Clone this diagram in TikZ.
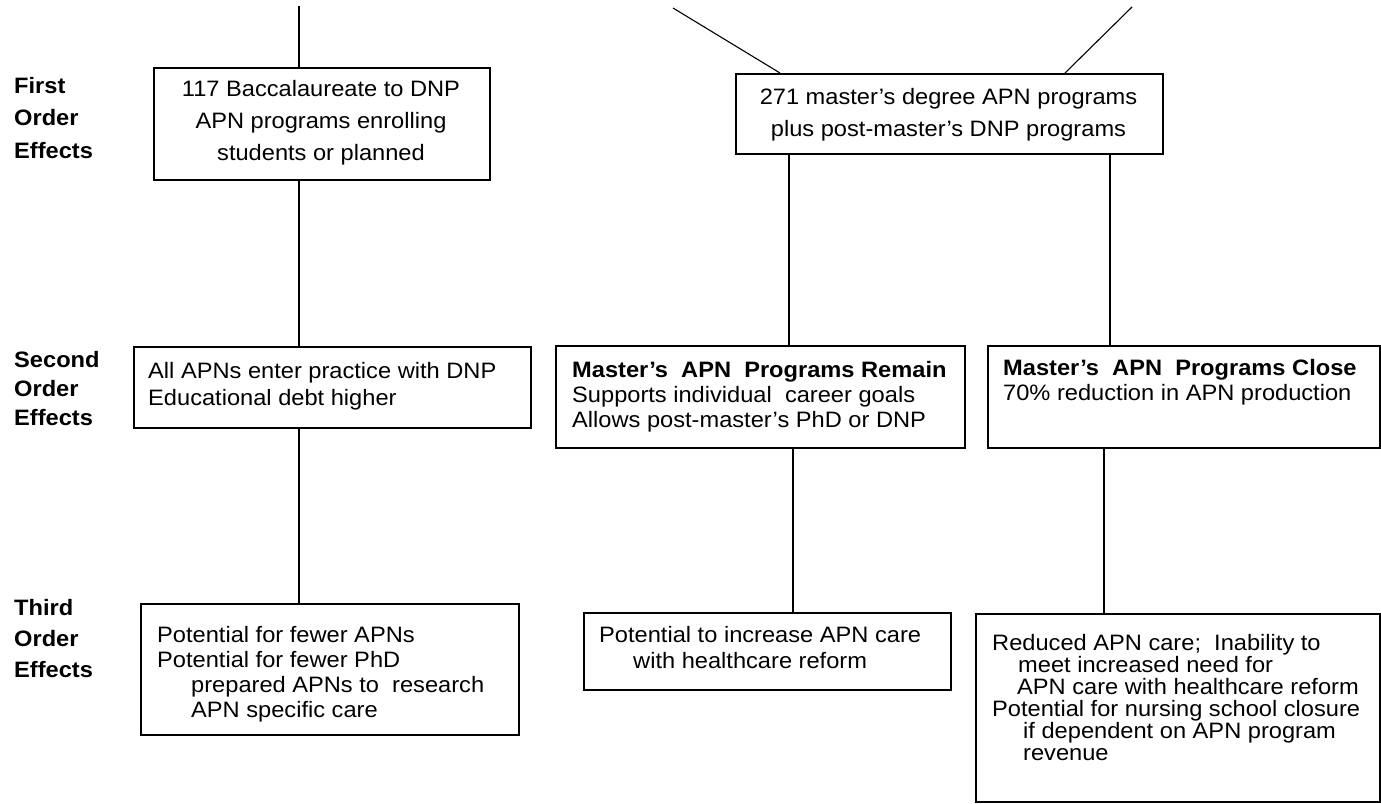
\documentclass[tikz,border=0pt]{standalone}
\usepackage{fontspec}
\setmainfont[FakeStretch=1.06]{Liberation Sans}
\begin{document}
\begin{tikzpicture}[x=1pt,y=-1pt,
  box/.style={draw, line width=1.5pt, rectangle, inner sep=0pt, anchor=north west},
  conn/.style={line width=1.5pt},
  diag/.style={line width=1.1pt},
  txt/.style={inner sep=0pt, anchor=north west, align=left},
  lab/.style={inner sep=0pt, anchor=north west, align=left}]
\fill[white] (0,0) rectangle (1381,803);
\useasboundingbox (0,0) rectangle (1381,803);

% row labels
\node[lab, font=\bfseries\fontsize{22.3}{32.5}\selectfont] (lab1) at (14,76.7) {First\\Order\\Effects};
\node[lab, font=\bfseries\fontsize{22.3}{29}\selectfont] (lab2) at (14,350.7) {Second\\Order\\Effects};
\node[lab, font=\bfseries\fontsize{22.3}{31}\selectfont] (lab3) at (14,598.7) {Third\\Order\\Effects};

% first order
\node[box, minimum width=336pt, minimum height=112pt] (b1) at (153,67) {};
\node[txt, anchor=north, align=center, font=\fontsize{22.3}{32}\selectfont] (t1) at (321,79.7)
  {117 Baccalaureate to DNP\\APN programs enrolling\\students or planned};
\node[box, minimum width=427pt, minimum height=80pt] (b2) at (735,73) {};
\node[txt, anchor=north, align=center, font=\fontsize{22.3}{32}\selectfont] (t2) at (948.5,87.7)
  {271 master's degree APN programs\\plus post-master's DNP programs};

% second order
\node[box, minimum width=397pt, minimum height=81pt] (b2L) at (133,346) {};
\node[txt, font=\fontsize{22.3}{27}\selectfont] (t2L) at (148,361.7)
  {All APNs enter practice with DNP\\Educational debt higher};
\node[box, minimum width=409pt, minimum height=102pt] (b2M) at (555,345) {};
\node[txt, font=\fontsize{22.3}{25}\selectfont] (t2M) at (572,360.7)
  {\textbf{Master's\ \ APN\ \ Programs Remain}\\Supports individual\ \ career goals\\Allows post-master's PhD or DNP};
\node[box, minimum width=392pt, minimum height=102pt] (b2R) at (987,345) {};
\node[txt, font=\fontsize{22.3}{25}\selectfont] (t2R) at (1003,358.7)
  {\textbf{Master's\ \ APN\ \ Programs Close}\\70\% reduction in APN production};

% third order
\node[box, minimum width=378pt, minimum height=131pt] (b3L) at (140,603) {};
\node[txt, font=\fontsize{22.3}{25}\selectfont] (t3L) at (157,625.7)
  {Potential for fewer APNs\\Potential for fewer PhD\\\hspace*{34pt}prepared APNs to\ \ research\\\hspace*{34pt}APN specific care};
\node[box, minimum width=367pt, minimum height=77pt] (b3M) at (583,612) {};
\node[txt, font=\fontsize{22.3}{26}\selectfont] (t3M) at (599,625.7)
  {Potential to increase APN care\\\hspace*{34pt}with healthcare reform};
\node[box, minimum width=404pt, minimum height=188pt] (b3R) at (975,613) {};
\node[txt, font=\fontsize{22.3}{22}\selectfont] (t3R) at (992,633.7)
  {Reduced APN care;\ \ Inability to\\\hspace*{26pt}meet increased need for\\\hspace*{25pt}APN care with healthcare reform\\Potential for nursing school closure\\\hspace*{31pt}if dependent on APN program\\\hspace*{31pt}revenue};

% connector anchors
\coordinate (top1) at (299,6);
\coordinate (d1) at (673,8);
\coordinate (e1) at (780,0);
\coordinate (d2) at (1132,7);
\coordinate (e2) at (1065,0);
\coordinate (cm) at (789,0);
\coordinate (cr) at (1110,0);
\coordinate (cm2) at (793,0);
\coordinate (cr2) at (1104,0);

% connectors
\draw[conn] (top1) -- (b1.north -| top1);
\draw[conn] (b1.south -| top1) -- (b2L.north -| top1);
\draw[conn] (b2L.south -| top1) -- (b3L.north -| top1);
\draw[diag] (d1) -- (b2.north -| e1);
\draw[diag] (d2) -- (b2.north -| e2);
\draw[conn] (b2.south -| cm) -- (b2M.north -| cm);
\draw[conn] (b2.south -| cr) -- (b2R.north -| cr);
\draw[conn] (b2M.south -| cm2) -- (b3M.north -| cm2);
\draw[conn] (b2R.south -| cr2) -- (b3R.north -| cr2);
\end{tikzpicture}
\end{document}
